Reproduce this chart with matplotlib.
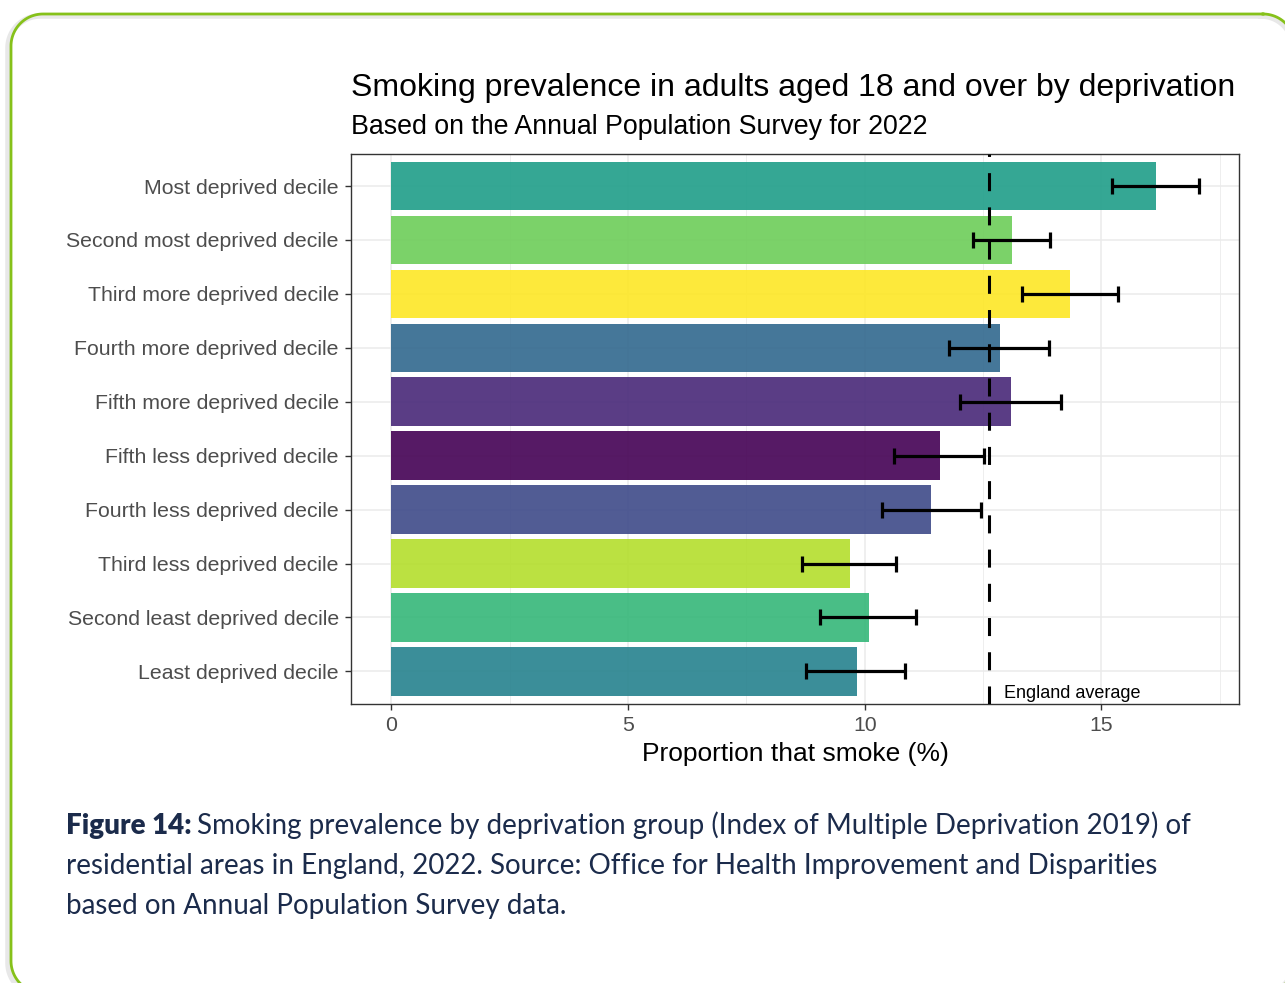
import matplotlib
matplotlib.use("Agg")
import numpy as np
import matplotlib.pyplot as plt
from matplotlib.lines import Line2D
from matplotlib.ticker import MultipleLocator

plt.rcParams['font.family'] = ['Liberation Sans', 'DejaVu Sans']

# data, top row first
groups = ["Most deprived decile", "Second most deprived decile", "Third more deprived decile",
          "Fourth more deprived decile", "Fifth more deprived decile", "Fifth less deprived decile",
          "Fourth less deprived decile", "Third less deprived decile", "Second least deprived decile",
          "Least deprived decile"]
prevalence = [16.15, 13.11, 14.34, 12.85, 13.09, 11.58, 11.41, 9.68, 10.08, 9.83]
ci_low = [15.22, 12.28, 13.32, 11.78, 12.01, 10.61, 10.36, 8.67, 9.05, 8.76]
ci_high = [17.06, 13.91, 15.34, 13.90, 14.15, 12.53, 12.45, 10.65, 11.09, 10.86]
bar_colors = ["#1F9E89", "#6DCD59", "#FDE725", "#31688E", "#482878",
              "#440154", "#3E4A89", "#B4DE2C", "#35B779", "#26828E"]
england_avg = 12.63

W, H = 1285, 983
fig = plt.figure(figsize=(W/100, H/100), dpi=100)
ax = fig.add_axes([351/W, 1-703.7/H, 888.3/W, 550/H])

ypos = list(range(len(groups)))
ax.barh(ypos, prevalence, height=0.9, color=bar_colors, alpha=0.9, zorder=2)
xerr = [[p - l for p, l in zip(prevalence, ci_low)], [h - p for p, h in zip(prevalence, ci_high)]]
ax.errorbar(prevalence, ypos, xerr=xerr, fmt='none', ecolor='black', elinewidth=2.3,
            capsize=6.0, capthick=2.3, zorder=4)
vl = ax.axvline(england_avg, color='black', lw=2.2, zorder=3)
vl.set_dashes((5.9, 5.3))
ax.text(england_avg + 0.32, 9.5, "England average", fontsize=13, color='black',
        ha='left', va='baseline', zorder=5)

span = max(ci_high)
ax.set_xlim(-0.05*span, span*1.05)
ax.set_ylim(len(groups) - 0.4, -0.6)
ax.set_yticks(ypos)
ax.set_yticklabels(groups)
ax.xaxis.set_major_locator(MultipleLocator(5))
ax.xaxis.set_minor_locator(MultipleLocator(2.5))
ax.grid(which='major', color='#ebebeb', lw=1.1, zorder=0)
ax.grid(which='minor', axis='x', color='#ebebeb', lw=0.6, zorder=0)
ax.set_axisbelow(True)
ax.tick_params(axis='both', which='major', length=4.3, width=1, color='#333333',
               labelsize=15.3, labelcolor='#4d4d4d', pad=4.5)
ax.tick_params(which='minor', length=0)
for s in ax.spines.values():
    s.set_color('#333333')
    s.set_linewidth(1.0)
ax.set_xlabel("Proportion that smoke (%)", fontsize=19, color='black', labelpad=5)

fig.text(351/W, 1-96/H, "Smoking prevalence in adults aged 18 and over by deprivation",
         fontsize=23, color='black', va='baseline')
fig.text(351/W, 1-134/H, "Based on the Annual Population Survey for 2022",
         fontsize=19.3, color='black', va='baseline')

# caption
cap_font = ['Lato', 'DejaVu Sans']
navy = '#1b2b4b'
renderer = fig.canvas.get_renderer()
t0 = fig.text(66/W, 1-834/H, "Figure 14:", fontsize=20, fontweight='heavy',
              color=navy, family=cap_font, va='baseline')
bb = t0.get_window_extent(renderer)
fig.text((bb.x1 + 5)/W, 1-834/H,
         "Smoking prevalence by deprivation group (Index of Multiple Deprivation 2019) of",
         fontsize=20, color=navy, family=cap_font, va='baseline')
fig.text(66/W, 1-874/H,
         "residential areas in England, 2022. Source: Office for Health Improvement and Disparities",
         fontsize=20, color=navy, family=cap_font, va='baseline')
fig.text(66/W, 1-914/H, "based on Annual Population Survey data.",
         fontsize=20, color=navy, family=cap_font, va='baseline')


def rounded_outline(x0, y0, x1, y1, r, n=30):
    # outline of a rounded box in figure pixels (y measured from the top)
    pts = []
    for cx, cy, a0 in [(x1 - r, y0 + r, -90), (x1 - r, y1 - r, 0),
                       (x0 + r, y1 - r, 90), (x0 + r, y0 + r, 180)]:
        a = np.radians(np.linspace(a0, a0 + 90, n))
        pts += list(zip(cx + r*np.cos(a), cy + r*np.sin(a)))
    pts.append(pts[0])
    xs = np.array([p[0] for p in pts]) / W
    ys = 1 - np.array([p[1] for p in pts]) / H
    return xs, ys


# soft shadow and rounded green frame (runs off the right and bottom edges)
sx, sy = rounded_outline(8, 16, 1293, 995, 32)
fig.add_artist(Line2D(sx, sy, color='#e8e8e8', lw=4, transform=fig.transFigure))
fx, fy = rounded_outline(11, 14, 1295, 993, 32)
fig.add_artist(Line2D(fx, fy, color='#86c11a', lw=2, transform=fig.transFigure))

fig.savefig("out.png", dpi=100)
